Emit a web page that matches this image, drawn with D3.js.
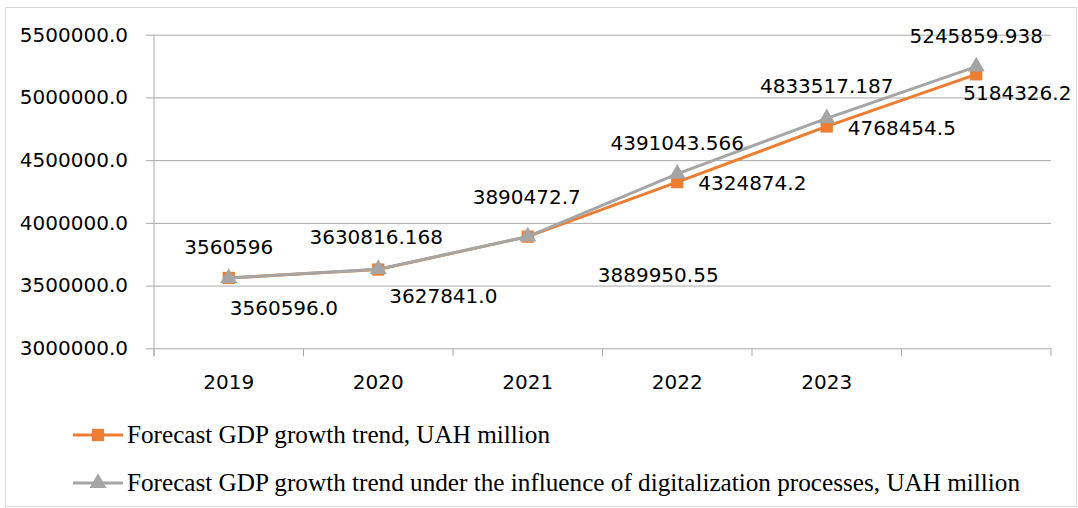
<!DOCTYPE html>
<html>
<head>
<meta charset="utf-8">
<script src="https://cdn.jsdelivr.net/npm/d3@7"></script>
<style>
body { margin: 0; background: #fff; }
</style>
</head>
<body>
<div id="Chart"></div>
<script>
// ------------------------------------------------------------------
// data
const years = ["2019", "2020", "2021", "2022", "2023", ""]
const forecast = [3560596.0, 3627841.0, 3889950.55, 4324874.2, 4768454.5, 5184326.2]
const digital = [3560596, 3630816.168, 3890472.7, 4391043.566, 4833517.187, 5245859.938]
const forecastLabels = ["3560596.0", "3627841.0", "3889950.55", "4324874.2", "4768454.5", "5184326.2"]
const digitalLabels = ["3560596", "3630816.168", "3890472.7", "4391043.566", "4833517.187", "5245859.938"]
const yTicks = [3000000, 3500000, 4000000, 4500000, 5000000, 5500000]
const seriesNames = ["Forecast GDP growth trend, UAH million",
  "Forecast GDP growth trend under the influence of digitalization processes, UAH million"]

// label placement (offset from the point, as placed by hand in the original)
const forecastOffsets = [[1, 37], [11, 33], [70, 45], [21, 8], [21, 8.5], [-13, 25.5]]
const digitalOffsets = [[0, -24], [-2, -25], [-1, -33], [0, -24], [0, -25], [0, -24]]

const orange = "#ED7D31"
const grey = "#A5A5A5"
const gridColor = "#a9a9a9"

// ------------------------------------------------------------------
const W = 1078, H = 508
const plot = {left: 154, right: 1051, top: 34.7, bottom: 348.3}

const svg = d3.select("#Chart").append("svg")
    .attr("width", W)
    .attr("height", H)

// outer frame
svg.append("rect")
    .attr("x", 5.5).attr("y", 7.5)
    .attr("width", 1071).attr("height", 499)
    .attr("fill", "#fff")
    .attr("stroke", "#d9d9d9")

const x = d3.scaleBand()
    .domain(years.map((d, i) => i))
    .range([plot.left, plot.right])

const y = d3.scaleLinear()
    .domain([3000000, 5500000])
    .range([plot.bottom, plot.top])

const cx = i => x(i) + x.bandwidth() / 2

// y axis with grid lines
const yAxis = svg.append("g")
    .attr("transform", "translate(" + plot.left + ",0)")
    .call(d3.axisLeft(y)
      .tickValues(yTicks)
      .tickSize(8)
      .tickPadding(18)
      .tickFormat(d3.format(".1f")))
yAxis.select(".domain").remove()
yAxis.selectAll(".tick line").attr("stroke", gridColor)
yAxis.selectAll(".tick").append("line")
    .attr("x2", plot.right - plot.left)
    .attr("stroke", gridColor)
yAxis.selectAll("text")
    .attr("font-family", "DejaVu Sans")
    .attr("font-size", 20)
    .attr("fill", "#000")

// vertical axis line
svg.append("line")
    .attr("x1", plot.left).attr("x2", plot.left)
    .attr("y1", plot.top).attr("y2", plot.bottom + 8)
    .attr("stroke", gridColor)

// x axis: labels in the middle of each band, ticks on the band edges
const xAxis = svg.append("g")
    .attr("transform", "translate(0," + plot.bottom + ")")
    .call(d3.axisBottom(x)
      .tickSize(0)
      .tickPadding(27)
      .tickFormat(i => years[i]))
xAxis.select(".domain").remove()
xAxis.selectAll("text")
    .attr("font-family", "DejaVu Sans")
    .attr("font-size", 20)
    .attr("fill", "#000")

svg.append("g").selectAll("line")
    .data(d3.range(years.length + 1))
  .enter().append("line")
    .attr("x1", i => plot.left + i * x.step())
    .attr("x2", i => plot.left + i * x.step())
    .attr("y1", plot.bottom)
    .attr("y2", plot.bottom + 8)
    .attr("stroke", gridColor)

// ------------------------------------------------------------------
const line = d3.line()
    .x((d, i) => cx(i))
    .y(d => y(d))

function draw_series (values, color, symbol, size)
{
  svg.append("path")
      .datum(values)
      .attr("fill", "none")
      .attr("stroke", color)
      .attr("stroke-width", 3)
      .attr("d", line)

  svg.append("g").selectAll("path")
      .data(values)
    .enter().append("path")
      .attr("transform", (d, i) => "translate(" + cx(i) + "," + y(d) + ")")
      .attr("d", d3.symbol().type(symbol).size(size))
      .attr("fill", color)
}

draw_series(forecast, orange, d3.symbolSquare, 150)
draw_series(digital, grey, d3.symbolTriangle, 125)

// data labels
function draw_labels (values, labels, offsets, anchor)
{
  svg.append("g").selectAll("text")
      .data(values)
    .enter().append("text")
      .attr("x", (d, i) => cx(i) + offsets[i][0])
      .attr("y", (d, i) => y(d) + offsets[i][1])
      .attr("text-anchor", anchor)
      .attr("font-family", "DejaVu Sans")
      .attr("font-size", 20)
      .attr("fill", "#000")
      .text((d, i) => labels[i])
}

draw_labels(forecast, forecastLabels, forecastOffsets, "start")
draw_labels(digital, digitalLabels, digitalOffsets, "middle")

// ------------------------------------------------------------------
// legend
const legend = svg.append("g")
const legendItems = [
  {name: seriesNames[0], color: orange, symbol: d3.symbolSquare, size: 150, y: 435},
  {name: seriesNames[1], color: grey, symbol: d3.symbolTriangle, size: 125, y: 483}
]

legendItems.forEach(function (d) {
  legend.append("line")
      .attr("x1", 73).attr("x2", 123)
      .attr("y1", d.y).attr("y2", d.y)
      .attr("stroke", d.color)
      .attr("stroke-width", 3)
  legend.append("path")
      .attr("transform", "translate(98," + d.y + ")")
      .attr("d", d3.symbol().type(d.symbol).size(d.size))
      .attr("fill", d.color)
  legend.append("text")
      .attr("x", 127)
      .attr("y", d.y + 8)
      .attr("font-family", "Liberation Serif, Times New Roman, serif")
      .attr("font-size", 25.2)
      .attr("fill", "#000")
      .text(d.name)
})
</script>
</body>
</html>
